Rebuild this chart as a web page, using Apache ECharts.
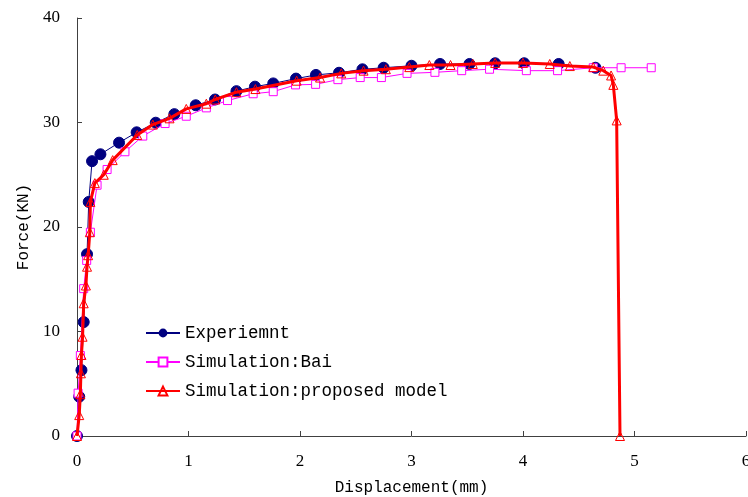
<!DOCTYPE html>
<html>
<head>
<meta charset="utf-8">
<script src="https://cdn.jsdelivr.net/npm/echarts@6/dist/echarts.min.js"></script>
<style>
  html, body { margin: 0; padding: 0; background: #fff; }
  #myChart { width: 748px; height: 497px; }
</style>
</head>
<body>
<div id="myChart"></div>
<script>
  // data: [displacement (mm), force (KN)]
  const legendNames = ['Experiemnt', 'Simulation:Bai', 'Simulation:proposed model'];

  const experiment = [
    [0, 0], [0.02, 3.76], [0.04, 6.3], [0.06, 10.9], [0.09, 17.4], [0.105, 22.4],
    [0.135, 26.3], [0.21, 26.96], [0.377, 28.07], [0.535, 29.06], [0.706, 29.98],
    [0.873, 30.8], [1.065, 31.65], [1.238, 32.2], [1.43, 33.0], [1.596, 33.43],
    [1.76, 33.74], [1.964, 34.2], [2.143, 34.55], [2.35, 34.76], [2.56, 35.09],
    [2.75, 35.24], [3.0, 35.43], [3.256, 35.6], [3.52, 35.6], [3.75, 35.67],
    [4.01, 35.67], [4.32, 35.6], [4.65, 35.24]
  ];

  const bai = [
    [0, 0], [0.01, 4.1], [0.03, 7.7], [0.06, 14.1], [0.087, 16.8], [0.12, 19.5],
    [0.18, 24.0], [0.27, 25.5], [0.43, 27.2], [0.59, 28.7], [0.79, 29.9],
    [0.98, 30.6], [1.16, 31.4], [1.35, 32.1], [1.58, 32.75], [1.76, 32.95],
    [1.96, 33.6], [2.14, 33.65], [2.34, 34.1], [2.54, 34.3], [2.73, 34.3],
    [2.96, 34.7], [3.21, 34.8], [3.45, 34.96], [3.70, 35.1], [4.03, 34.96],
    [4.31, 34.96], [4.63, 35.24], [4.88, 35.24], [5.15, 35.24]
  ];

  const proposed = [
    [0, 0], [0.02, 2.0], [0.03, 4.0], [0.035, 6.0], [0.04, 7.75], [0.05, 9.5],
    [0.06, 12.7], [0.08, 14.4], [0.09, 16.2], [0.10, 17.3], [0.115, 19.5],
    [0.12, 22.4], [0.16, 24.2], [0.24, 25.0], [0.32, 26.4], [0.54, 28.8],
    [0.68, 29.8], [0.83, 30.4], [0.98, 31.3], [1.16, 31.8], [1.24, 32.2],
    [1.43, 32.9], [1.60, 33.2], [1.97, 34.0], [2.18, 34.3], [2.37, 34.7],
    [2.57, 34.96], [2.77, 35.1], [2.98, 35.3], [3.16, 35.5], [3.35, 35.5],
    [3.55, 35.6], [3.75, 35.7], [4.0, 35.7], [4.24, 35.6], [4.42, 35.4],
    [4.63, 35.3], [4.72, 34.96], [4.79, 34.5], [4.81, 33.6], [4.84, 30.2],
    [4.87, 0]
  ];

  const xTicks = { min: 0, max: 6, interval: 1 };
  const yTicks = { min: 0, max: 40, interval: 10 };

  const monoFont = '"Liberation Mono", "DejaVu Sans Mono", monospace';
  const serifFont = '"Liberation Serif", "DejaVu Serif", serif';

  let myChart = echarts.init(document.getElementById('myChart'));
  myChart.setOption({
    animation: false,
    backgroundColor: '#fff',
    grid: { left: 77, right: 2, top: 18, bottom: 61, outerBoundsMode: 'none' },
    legend: {
      orient: 'vertical',
      left: 140,
      top: 319,
      itemWidth: 34,
      itemHeight: 11,
      itemGap: 11,
      data: legendNames,
      textStyle: { fontFamily: monoFont, fontSize: 17.5, color: '#000' }
    },
    xAxis: {
      type: 'value',
      min: xTicks.min,
      max: xTicks.max,
      interval: xTicks.interval,
      name: 'Displacement(mm)',
      nameLocation: 'middle',
      nameGap: 44,
      nameTextStyle: { fontFamily: monoFont, fontSize: 16, color: '#000' },
      axisLine: { lineStyle: { color: '#404040', width: 1 } },
      axisTick: { inside: true, length: 5, lineStyle: { color: '#404040' } },
      axisLabel: { margin: 17, fontFamily: serifFont, fontSize: 17, color: '#000' },
      splitLine: { show: false }
    },
    yAxis: {
      type: 'value',
      min: yTicks.min,
      max: yTicks.max,
      interval: yTicks.interval,
      name: 'Force(KN)',
      nameLocation: 'middle',
      nameGap: 42,
      nameTextStyle: { fontFamily: monoFont, fontSize: 16, color: '#000' },
      axisLine: { show: true, lineStyle: { color: '#404040', width: 1 } },
      axisTick: { show: true, inside: true, length: 5, lineStyle: { color: '#404040' } },
      axisLabel: { margin: 17, fontFamily: serifFont, fontSize: 17, color: '#000' },
      splitLine: { show: false }
    },
    series: [
      {
        name: legendNames[0],
        type: 'line',
        data: experiment,
        symbol: 'circle',
        symbolSize: 11,
        itemStyle: { color: '#000080', borderColor: '#000080' },
        lineStyle: { color: '#000080', width: 1 },
        z: 2
      },
      {
        name: legendNames[1],
        type: 'line',
        data: bai,
        symbol: 'rect',
        symbolSize: 8,
        itemStyle: { color: '#fff', borderColor: '#ff00ff', borderWidth: 1 },
        lineStyle: { color: '#ff00ff', width: 1 },
        z: 3
      },
      {
        name: legendNames[2],
        type: 'line',
        data: proposed,
        symbol: 'triangle',
        symbolSize: 9,
        itemStyle: { color: 'rgba(255,255,255,0)', borderColor: '#ff0000', borderWidth: 1 },
        lineStyle: { color: '#ff0000', width: 3 },
        z: 4
      }
    ]
  });
</script>
</body>
</html>
